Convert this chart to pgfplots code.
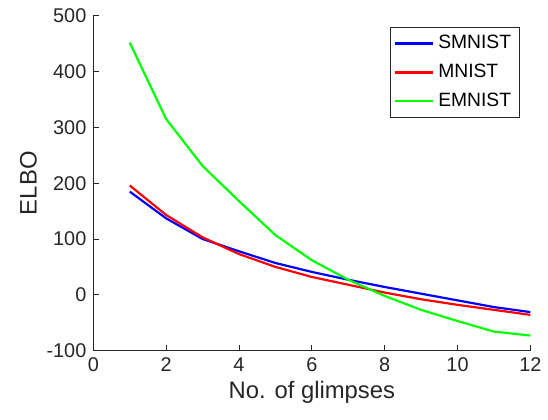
\documentclass[border=0pt]{standalone}
\usepackage{pgfplots}
\pgfplotsset{compat=1.18}
\usepackage{fontspec}
\setmainfont{Liberation Sans}
\definecolor{axgray}{rgb}{0.15,0.15,0.15}
\definecolor{mblue}{rgb}{0,0,1}
\definecolor{mred}{rgb}{1,0,0}
\definecolor{mgreen}{rgb}{0,1,0}
\begin{document}
\begin{tikzpicture}
\begin{axis}[
    scale only axis,
    width=220pt, height=168.5pt,
    xmin=0, xmax=12, ymin=-100, ymax=500,
    xtick={0,2,4,6,8,10,12},
    ytick={-100,0,100,200,300,400,500},
    axis lines=left,
    axis line style={axgray, -, line width=0.5pt},
    tick style={axgray, line width=0.5pt},
    tick align=inside,
    major tick length=3pt,
    tick label style={font=\fontsize{10}{12}\selectfont, text=axgray},
    /pgf/number format/assume math mode=true,
    xlabel={No. of glimpses},
    ylabel={ELBO},
    label style={font=\fontsize{12}{14}\selectfont, text=axgray},
    xlabel style={yshift=2pt},
    ylabel style={yshift=-2pt},
    legend style={at={(0.975,0.967)}, anchor=north east, draw=axgray,
        font=\fontsize{9.7}{11}\selectfont, row sep=2.2pt, inner sep=2pt},
    legend cell align=left,
    legend image code/.code={\draw[#1, line width=1.3pt] (0pt,0pt) -- (19pt,0pt);},
]
\addplot[mblue, line width=1.1pt] coordinates {
    (1,185) (2,137) (3,100) (4,78) (5,57) (6,41) (7,27) (8,14) (9,2) (10,-10) (11,-22) (12,-31)
};
\addlegendentry{SMNIST}
\addplot[mred, line width=1.1pt] coordinates {
    (1,196) (2,143) (3,103) (4,73) (5,50) (6,32) (7,18) (8,4) (9,-8) (10,-18) (11,-27) (12,-36)
};
\addlegendentry{MNIST}
\addplot[mgreen, line width=1.1pt] coordinates {
    (1,452) (2,315) (3,231) (4,168) (5,107) (6,62) (7,27) (8,-2) (9,-27) (10,-47) (11,-66) (12,-73)
};
\addlegendentry{EMNIST}
\end{axis}
\path[use as bounding box] (-47pt,-34.5pt) rectangle (227pt,176.5pt);
\end{tikzpicture}
\end{document}
